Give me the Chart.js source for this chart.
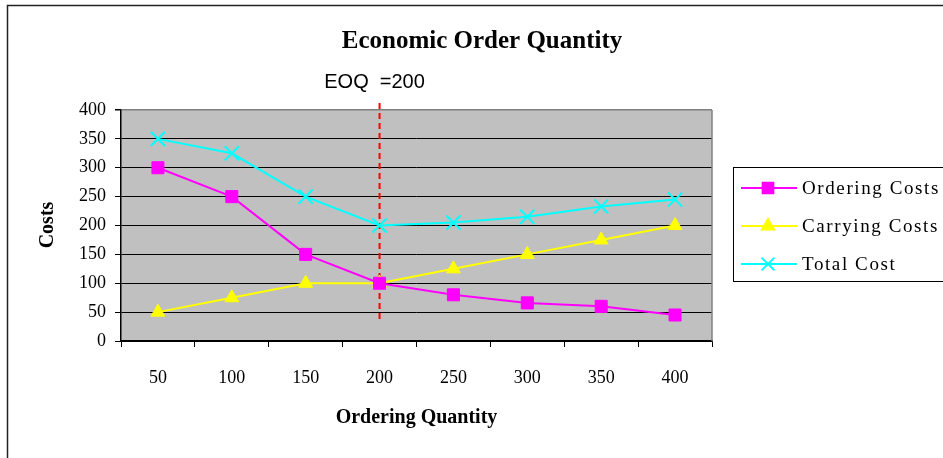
<!DOCTYPE html>
<html>
<head>
<meta charset="utf-8">
<script src="https://cdn.jsdelivr.net/npm/chart.js"></script>
<style>
  body { margin: 0; background: #fff; }
  canvas { display: block; }
</style>
</head>
<body>
<canvas id="eoqChart" width="943" height="458"></canvas>
<script>
// values
const quantities = ['50', '100', '150', '200', '250', '300', '350', '400'];
const orderingCosts = [300, 250, 150, 100, 80, 66, 60, 45];
const carryingCosts = [50, 75, 100, 100, 125, 150, 175, 200];
const totalCosts = [350, 325, 250, 200, 205, 215, 233, 245];
const costMin = 0;
const costMax = 400;
const costStep = 50;
const eoqQuantity = '200';
const eoqText = 'EOQ  =200';

const serif = '"Liberation Serif", "Times New Roman", serif';

// background, frame, titles, EOQ marker and the boxed legend
const decorations = {
  id: 'decorations',
  beforeDraw(chart) {
    const { ctx, chartArea: a } = chart;
    ctx.save();
    ctx.fillStyle = '#fff';
    ctx.fillRect(0, 0, chart.width, chart.height);
    ctx.fillStyle = '#c0c0c0';
    ctx.fillRect(a.left, a.top, a.right - a.left, a.bottom - a.top);
    ctx.restore();
  },
  beforeDatasetsDraw(chart) {
    const { ctx, chartArea: a } = chart;
    ctx.save();
    // plot area right edge
    ctx.strokeStyle = '#808080';
    ctx.lineWidth = 1.5;
    ctx.beginPath();
    ctx.moveTo(a.right, a.top);
    ctx.lineTo(a.right, a.bottom);
    ctx.stroke();
    // EOQ dashed line
    const x = chart.scales.x.getPixelForValue(quantities.indexOf(eoqQuantity));
    ctx.strokeStyle = '#ff0000';
    ctx.lineWidth = 2;
    ctx.setLineDash([6, 4]);
    ctx.beginPath();
    ctx.moveTo(x, a.top - 7);
    ctx.lineTo(x, a.bottom - 20);
    ctx.stroke();
    ctx.restore();
  },
  afterDraw(chart) {
    const { ctx, chartArea: a } = chart;
    ctx.save();
    // outer frame (cut off on the right and bottom)
    ctx.strokeStyle = '#222';
    ctx.lineWidth = 1.5;
    ctx.beginPath();
    ctx.moveTo(7.5, chart.height);
    ctx.lineTo(7.5, 5.5);
    ctx.lineTo(chart.width, 5.5);
    ctx.stroke();

    ctx.fillStyle = '#000';
    ctx.textAlign = 'center';
    ctx.textBaseline = 'middle';
    ctx.font = 'bold 25px ' + serif;
    ctx.fillText('Economic Order Quantity', 482, 42);

    ctx.font = '20px "Liberation Sans", Arial, sans-serif';
    const ex = chart.scales.x.getPixelForValue(quantities.indexOf(eoqQuantity));
    ctx.fillText(eoqText, ex - 5, 82);

    ctx.font = 'bold 20px ' + serif;
    ctx.fillText('Ordering Quantity', (a.left + a.right) / 2, 418);
    ctx.save();
    ctx.translate(48, 225);
    ctx.rotate(-Math.PI / 2);
    ctx.fillText('Costs', 0, 0);
    ctx.restore();

    // legend
    ctx.strokeStyle = '#000';
    ctx.lineWidth = 1;
    ctx.strokeRect(733.5, 167.5, 230, 114);
    ctx.textAlign = 'left';
    ctx.font = '19px ' + serif;
    ctx.letterSpacing = '1.6px';
    chart.data.datasets.forEach((ds, i) => {
      const y = 188 + i * 38;
      ctx.strokeStyle = ds.borderColor;
      ctx.fillStyle = ds.backgroundColor;
      ctx.lineWidth = 2;
      ctx.beginPath();
      ctx.moveTo(741, y);
      ctx.lineTo(797, y);
      ctx.stroke();
      Chart.helpers.drawPoint(ctx, {
        pointStyle: ds.pointStyle,
        radius: ds.pointRadius - 1,
        borderWidth: ds.pointBorderWidth
      }, 768, y);
      ctx.fillStyle = '#000';
      ctx.fillText(ds.label, 802, y + 1);
    });
    ctx.restore();
  }
};

function series(label, data, color, style, radius) {
  return {
    label: label,
    data: data,
    borderColor: color,
    backgroundColor: color,
    borderWidth: 2,
    pointStyle: style,
    pointRadius: radius,
    pointHoverRadius: radius,
    pointBackgroundColor: color,
    pointBorderColor: color,
    pointBorderWidth: style === 'crossRot' ? 2 : 1,
    tension: 0
  };
}

new Chart(document.getElementById('eoqChart'), {
  type: 'line',
  data: {
    labels: quantities,
    datasets: [
      series('Ordering Costs', orderingCosts, '#ff00ff', 'rect', 8.5),
      series('Carrying Costs', carryingCosts, '#ffff00', 'triangle', 8),
      series('Total Cost', totalCosts, '#00ffff', 'crossRot', 10)
    ]
  },
  options: {
    responsive: false,
    animation: false,
    devicePixelRatio: 1,
    layout: { padding: { top: 110, right: 231, left: 0, bottom: 0 } },
    plugins: {
      legend: { display: false },
      title: { display: false },
      tooltip: { enabled: false }
    },
    scales: {
      x: {
        type: 'category',
        offset: true,
        afterFit(scale) { scale.height = 117; },
        grid: {
          offset: true,
          drawOnChartArea: false,
          drawTicks: true,
          tickLength: 6,
          tickColor: '#000'
        },
        border: { color: '#000', width: 1.5 },
        ticks: {
          padding: 20,
          color: '#000',
          font: { family: serif, size: 18 }
        }
      },
      y: {
        min: costMin,
        max: costMax,
        afterFit(scale) { scale.width = 121; },
        grid: {
          color: (c) => (c.tick && c.tick.value === costMax ? '#808080' : '#000'),
          lineWidth: (c) => (c.tick && c.tick.value === costMax ? 1.5 : 1),
          tickLength: 6,
          tickColor: '#000'
        },
        border: { color: '#000', width: 1.5 },
        ticks: {
          stepSize: costStep,
          padding: 9,
          color: '#000',
          font: { family: serif, size: 18 }
        }
      }
    }
  },
  plugins: [decorations]
});
</script>
</body>
</html>
